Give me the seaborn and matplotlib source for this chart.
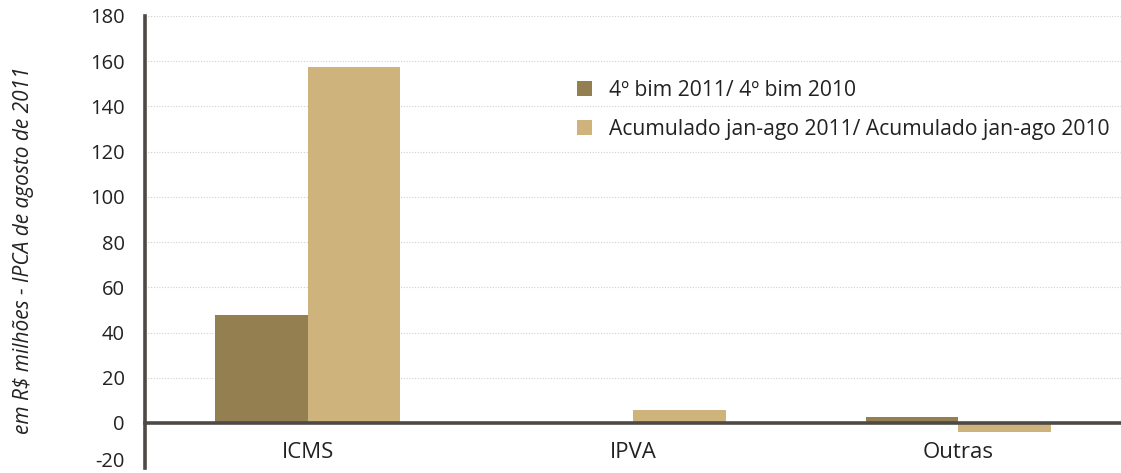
import matplotlib
matplotlib.use("Agg")
import matplotlib.pyplot as plt
import matplotlib.transforms as mtransforms
import seaborn as sns
import pandas as pd
from matplotlib.ticker import FixedLocator

categories = ["ICMS", "IPVA", "Outras"]
series_names = ["4º bim 2011/ 4º bim 2010", "Acumulado jan-ago 2011/ Acumulado jan-ago 2010"]
bim_values = [47.8, 0.0, 2.6]
acum_values = [157.6, 5.9, -4.1]
y_ticks = [-20, 0, 20, 40, 60, 80, 100, 120, 140, 160, 180]
y_label = "em R$ milhões - IPCA de agosto de 2011"
colors = ["#947F50", "#CFB37C"]

df = pd.DataFrame({
    "cat": categories * 2,
    "serie": [series_names[0]] * 3 + [series_names[1]] * 3,
    "val": bim_values + acum_values,
})

sns.set_style("white")
plt.rcParams["font.family"] = ["Open Sans", "DejaVu Sans"]

fig = plt.figure(figsize=(11.21, 4.73), dpi=100)
ax = fig.add_axes([0.1293, 0.0101, 0.8707, 0.9561])

sns.barplot(data=df, x="cat", y="val", hue="serie", palette=colors,
            order=categories, hue_order=series_names, width=0.57,
            gap=0, saturation=1, ax=ax, edgecolor="none", linewidth=0)

txt = "#222222"
ax.set_ylim(-20, 180)
ax.set_xlim(-0.5, 2.5)
ax.set_yticks(y_ticks)
ax.set_yticklabels([str(t) for t in y_ticks], fontsize=14.5, color=txt)
ax.yaxis.grid(True, linestyle=(0, (1, 1.5)), color="#d0d0d0", linewidth=0.8)
ax.set_axisbelow(True)

dark = "#4d4946"
for s in ["top", "right"]:
    ax.spines[s].set_visible(False)
ax.spines["left"].set_color(dark)
ax.spines["left"].set_linewidth(2.6)
ax.spines["bottom"].set_position(("data", 0))
ax.spines["bottom"].set_color(dark)
ax.spines["bottom"].set_linewidth(2.6)

ax.tick_params(axis="y", which="major", length=5, width=1, color=dark, pad=9.5)
ax.tick_params(axis="x", which="major", length=0, pad=13.5, labelsize=16, labelcolor=txt)
ax.xaxis.set_minor_locator(FixedLocator([0.5, 1.5]))
ax.tick_params(axis="x", which="minor", length=5, width=1, color=dark, direction="out")
ax.set_xlabel("")
ax.set_ylabel(y_label, fontsize=15, style="italic", color=txt)
ax.yaxis.set_label_coords(-0.1137, 0.482)

# keep the lowest tick label fully inside the figure
lbl = ax.get_yticklabels()[0]
lbl.set_verticalalignment("bottom")
lbl.set_transform(lbl.get_transform() +
                  mtransforms.ScaledTranslation(0, -3.5 / 100, fig.dpi_scale_trans))

handles, labels = ax.get_legend_handles_labels()
ax.legend(handles, labels, loc="upper left", bbox_to_anchor=(0.434, 0.878),
          frameon=False, fontsize=15.2, handlelength=0.7, handleheight=0.7,
          handletextpad=0.8, labelspacing=0.87, borderaxespad=0,
          labelcolor=txt)

fig.savefig("out.png", dpi=100)
